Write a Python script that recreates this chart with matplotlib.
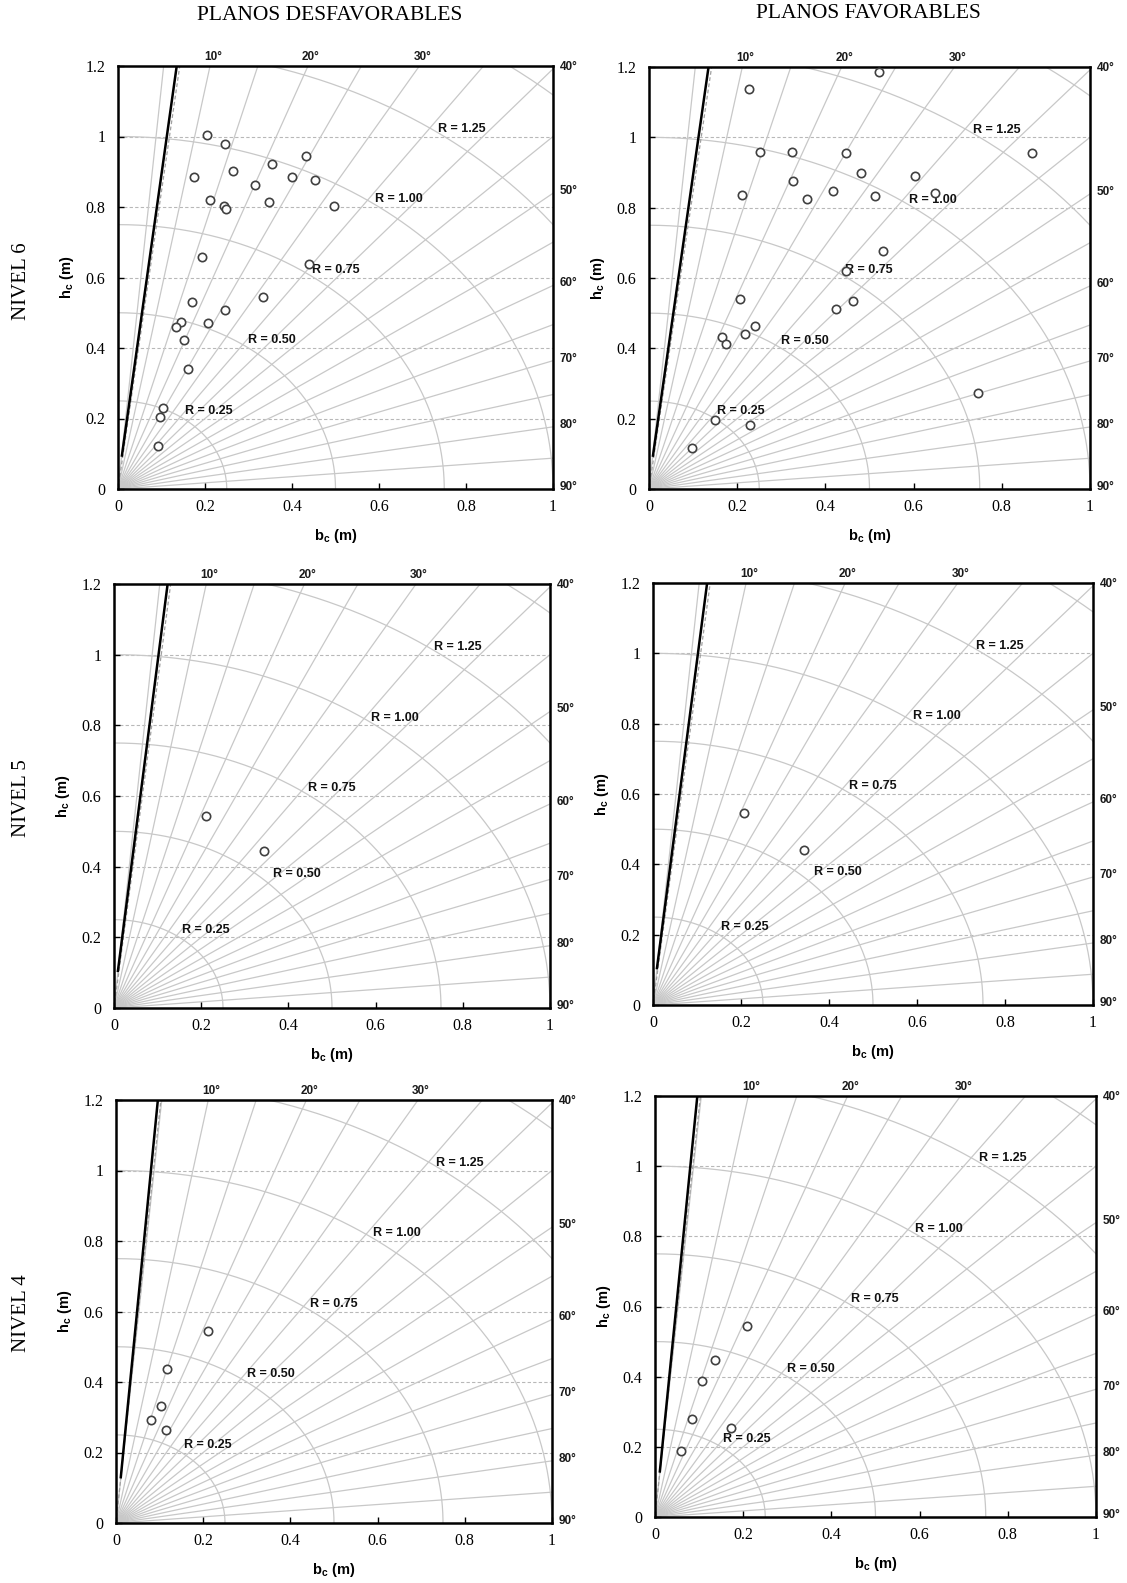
import numpy as np
import matplotlib.pyplot as plt
from matplotlib.ticker import FuncFormatter

plt.rcParams['font.family'] = ['Liberation Serif', 'DejaVu Serif']
plt.rcParams['mathtext.fontset'] = 'custom'
plt.rcParams['mathtext.rm'] = 'Liberation Sans'
plt.rcParams['mathtext.bf'] = 'Liberation Sans:bold'

# ---- datos (b_c, h_c en m) ----
# nivel 6, planos desfavorables
n6_des_b = [0.204, 0.246, 0.433, 0.354, 0.264, 0.175, 0.400, 0.453, 0.315, 0.211, 0.346, 0.244, 0.248, 0.496,
            0.193, 0.439, 0.334, 0.169, 0.246, 0.145, 0.133, 0.208, 0.151, 0.160, 0.103, 0.096, 0.091]
n6_des_h = [1.003, 0.980, 0.944, 0.921, 0.903, 0.884, 0.884, 0.876, 0.862, 0.820, 0.813, 0.804, 0.795, 0.802,
            0.657, 0.639, 0.546, 0.531, 0.508, 0.475, 0.460, 0.470, 0.422, 0.341, 0.229, 0.205, 0.121]
# nivel 6, planos favorables
n6_fav_b = [0.522, 0.226, 0.251, 0.324, 0.447, 0.869, 0.480, 0.603, 0.327, 0.649, 0.418, 0.211, 0.358, 0.513,
            0.531, 0.447, 0.206, 0.463, 0.424, 0.241, 0.217, 0.166, 0.175, 0.746, 0.149, 0.230, 0.097]
n6_fav_h = [1.185, 1.137, 0.959, 0.959, 0.955, 0.955, 0.899, 0.891, 0.876, 0.843, 0.847, 0.836, 0.824, 0.832,
            0.676, 0.620, 0.541, 0.535, 0.512, 0.464, 0.441, 0.431, 0.412, 0.273, 0.196, 0.181, 0.117]
# nivel 5
n5_des_b = [0.211, 0.344]
n5_des_h = [0.544, 0.444]
n5_fav_b = [0.207, 0.343]
n5_fav_h = [0.545, 0.442]
# nivel 4
n4_des_b = [0.210, 0.117, 0.104, 0.080, 0.114]
n4_des_h = [0.544, 0.436, 0.333, 0.293, 0.263]
n4_fav_b = [0.208, 0.136, 0.106, 0.085, 0.173, 0.058]
n4_fav_h = [0.543, 0.447, 0.388, 0.280, 0.255, 0.188]

# linea limite (b, h) extremo inferior y superior
lim6_b = [0.009, 0.135]
lim6_h = [0.095, 1.2]
lim5_b = [0.009, 0.123]
lim5_h = [0.105, 1.2]
lim4_b = [0.011, 0.096]
lim4_h = [0.13, 1.2]

radios = [0.25, 0.5, 0.75, 1.0, 1.25, 1.5]
radios_txt = ['R = 0.25', 'R = 0.50', 'R = 0.75', 'R = 1.00', 'R = 1.25']
ang_radiales = list(range(5, 90, 5))
ang_sup = [10, 20, 30]
ang_der = [40, 50, 60, 70, 80, 90]

W, H = 1127, 1583
fig = plt.figure(figsize=(W / 100, H / 100), dpi=100)

GRIS = '#c8c8c8'
sans = ['Liberation Sans', 'DejaVu Sans']


def panel(rect, b, h, lim_b, lim_h, r05_bajo=False):
    x0, y0, x1, y1 = rect
    ax = fig.add_axes([x0 / W, 1 - y1 / H, (x1 - x0) / W, (y1 - y0) / H])
    ax.set_xlim(0, 1)
    ax.set_ylim(0, 1.2)

    for y in [0.2, 0.4, 0.6, 0.8, 1.0]:
        ax.plot([0, 1], [y, y], color='#b8b8b8', lw=0.8, dashes=(3, 2), zorder=1)

    for a in ang_radiales:
        t = np.radians(a)
        ax.plot([0, 3 * np.sin(t)], [0, 3 * np.cos(t)], color=GRIS, lw=0.9, zorder=1)

    phi = np.linspace(0, np.pi / 2, 200)
    for r in radios:
        ax.plot(r * np.sin(phi), r * np.cos(phi), color=GRIS, lw=0.9, zorder=1)

    for r, txt in zip(radios, radios_txt):
        xt, yt = 0.58 * r + 0.01, 0.8 * r + 0.022
        if r05_bajo and r == 0.5:
            xt, yt = 0.365, 0.378
        ax.text(xt, yt, txt, family=sans, fontweight='bold', fontsize=9,
                ha='left', va='center', color='#111111', zorder=3)

    # dashed line next to the limit
    ax.plot([0, lim_b[1] + 0.007], [0, 1.2], color='#a0a0a0', lw=0.9, dashes=(3, 2), zorder=2)
    ax.plot(lim_b, lim_h, color='black', lw=1.8, zorder=3)

    ax.plot(b, h, 'o', ms=6, mfc='white', mec='#404040', mew=1.2, zorder=4, clip_on=False)

    for a in ang_sup:
        ax.annotate(f'{a}°', xy=(1.2 * np.tan(np.radians(a)), 1.2), xytext=(2, 6.5),
                    textcoords='offset points', ha='center', va='center',
                    family=sans, fontweight='bold', fontsize=8.5, color='#1a1a1a',
                    annotation_clip=False)
    for a in ang_der:
        yv = 1 / np.tan(np.radians(a)) if a < 90 else 0.0
        ax.annotate(f'{a}°', xy=(1, yv), xytext=(11, 1.5),
                    textcoords='offset points', ha='center', va='center',
                    family=sans, fontweight='bold', fontsize=8.5, color='#1a1a1a',
                    annotation_clip=False)

    ax.set_xticks(np.arange(0, 1.01, 0.2))
    ax.set_yticks(np.arange(0, 1.21, 0.2))
    fmt = FuncFormatter(lambda v, p: f'{v:g}')
    ax.xaxis.set_major_formatter(fmt)
    ax.yaxis.set_major_formatter(fmt)
    ax.tick_params(direction='in', length=4, width=1, labelsize=11.5, pad=7)
    ax.tick_params(axis='y', pad=9)
    for s in ax.spines.values():
        s.set_linewidth(1.8)

    ax.set_xlabel(r'b$_{\mathbf{c}}$ (m)', family=sans, fontweight='bold', fontsize=10.5, labelpad=9)
    ax.set_ylabel(r'h$_{\mathbf{c}}$ (m)', family=sans, fontweight='bold', fontsize=10.5, labelpad=7)
    return ax


panel((118, 66, 553, 489), n6_des_b, n6_des_h, lim6_b, lim6_h)
panel((649, 67, 1090, 489), n6_fav_b, n6_fav_h, lim6_b, lim6_h)
panel((114, 584, 550, 1008), n5_des_b, n5_des_h, lim5_b, lim5_h, r05_bajo=True)
panel((653, 583, 1093, 1005), n5_fav_b, n5_fav_h, lim5_b, lim5_h, r05_bajo=True)
panel((116, 1100, 552, 1523), n4_des_b, n4_des_h, lim4_b, lim4_h)
panel((655, 1096, 1096, 1517), n4_fav_b, n4_fav_h, lim4_b, lim4_h)

fig.text(330 / W, 1 - 16 / H, 'PLANOS DESFAVORABLES', ha='center', va='center', fontsize=15.5)
fig.text(868 / W, 1 - 13 / H, 'PLANOS FAVORABLES', ha='center', va='center', fontsize=15.5)
for yy, txt in [(281, 'NIVEL 6'), (798, 'NIVEL 5'), (1313, 'NIVEL 4')]:
    fig.text(21 / W, 1 - yy / H, txt, ha='center', va='center', rotation=90, fontsize=15)

fig.savefig('out.png', dpi=100)
